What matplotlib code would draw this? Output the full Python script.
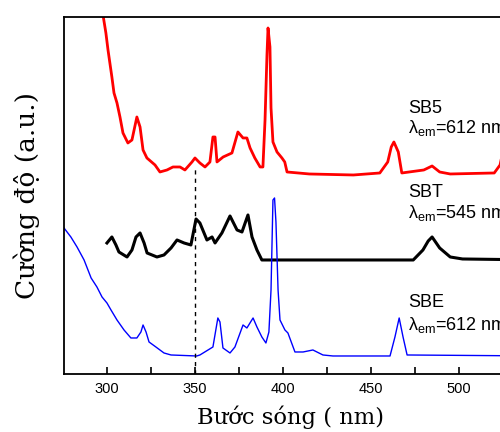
import matplotlib.pyplot as plt
from matplotlib.ticker import MultipleLocator

# Excitation spectra, intensity in arbitrary units
wl_sb5 = [297.3, 299.4, 300.6, 302.8, 304.0, 305.7, 307.4, 309.1, 311.9, 314.2, 317.0,
          318.8, 320.5, 322.7, 327.3, 330.1, 334.1, 337.5, 341.5, 344.3, 348.3, 350.0,
          352.8, 355.7, 358.5, 360.2, 361.4, 362.5, 366.0, 371.0, 374.4, 377.3, 379.5,
          381.3, 384.0, 387.0, 388.6, 389.8, 390.9, 391.5, 392.6, 393.2, 394.3, 396.6,
          399.4, 401.0, 402.3, 415.0, 440.0, 455.0, 459.5, 461.5, 463.0, 465.5, 467.5,
          480.0, 484.7, 489.0, 495.0, 520.0, 523.3, 527.0]
int_sb5 = [364, 341, 324, 297, 281, 271, 257, 241, 231, 234, 257,
           247, 224, 216, 209, 202, 204, 207, 207, 204, 212, 216,
           211, 207, 212, 237, 237, 212, 217, 221, 242, 236, 236,
           226, 216, 207, 207, 254, 319, 346, 327, 266, 232, 222,
           216, 212, 202, 200, 199, 201, 212, 227, 232, 222, 201,
           204, 208, 202, 200, 201, 209, 240]

wl_sbt = [300.0, 302.8, 305.1, 306.8, 311.4, 314.2, 316.5, 318.8, 321.1, 322.8, 328.4,
          332.4, 336.4, 339.8, 343.8, 347.7, 350.6, 352.8, 356.8, 359.7, 361.4, 365.3,
          369.9, 373.9, 376.7, 380.1, 382.4, 385.2, 388.0, 415.0, 474.0, 479.5, 482.5,
          484.7, 489.0, 495.0, 502.0, 546.0]
int_sbt = [131, 137, 129, 122, 117, 124, 137, 141, 131, 121, 117,
           119, 126, 134, 131, 129, 155, 151, 134, 137, 131, 141,
           158, 144, 142, 159, 137, 124, 114, 114, 114, 124, 133,
           137, 126, 117, 115, 114]

wl_sbe = [275.6, 279.5, 283.0, 287.0, 291.0, 294.3, 297.2, 300.0, 302.3, 305.7, 309.7,
          313.6, 317.0, 319.3, 320.5, 322.2, 323.9, 327.8, 332.4, 336.4, 351.0, 352.8,
          360.2, 363.0, 364.2, 365.9, 369.9, 372.7, 377.3, 379.5, 383.0, 385.2, 388.0,
          390.3, 392.0, 393.2, 394.3, 395.2, 396.0, 397.2, 398.3, 401.1, 402.8, 406.8,
          411.4, 417.0, 422.7, 428.4, 460.8, 463.6, 466.0, 468.2, 470.5, 546.0]
int_sbe = [146, 137, 127, 114, 96, 87, 77, 71, 64, 54, 44,
           36, 36, 42, 49, 42, 32, 27, 21, 19, 18, 19,
           27, 56, 52, 26, 21, 27, 49, 46, 56, 47, 37,
           31, 42, 84, 174, 176, 152, 84, 54, 44, 41, 22,
           22, 24, 19, 18, 18, 37, 56, 37, 19, 18]

dash_x = 350
dash_top = 207

labels = [("SB5", r"$\mathregular{\lambda_{em}}$=612 nm", 261, 241),
          ("SBT", r"$\mathregular{\lambda_{em}}$=545 nm", 177, 156),
          ("SBE", r"$\mathregular{\lambda_{em}}$=612 nm", 67, 44)]
label_x = 471

fig = plt.figure(figsize=(5.0, 4.32), dpi=100)
ax = fig.add_axes([0.128, 0.1343, 0.952, 0.8264])

ax.plot(wl_sb5, int_sb5, color='#ff0000', lw=2.0)
ax.plot(wl_sbt, int_sbt, color='black', lw=2.2)
ax.plot(wl_sbe, int_sbe, color='#0000ff', lw=1.0)
ax.plot([dash_x, dash_x], [0, dash_top], color='black', lw=1.0, ls=(0, (3, 3)))

for name, lam, y1, y2 in labels:
    ax.text(label_x, y1, name, fontsize=13, family='Liberation Sans', va='baseline')
    ax.text(label_x, y2, lam, fontsize=13, family='Liberation Sans', va='baseline')

ax.set_xlim(275.6, 546)
ax.set_ylim(0, 357)
ax.xaxis.set_major_locator(MultipleLocator(50))
ax.xaxis.set_minor_locator(MultipleLocator(25))
ax.tick_params(axis='x', which='both', direction='in', length=5, width=1.2,
               labelsize=10.5, pad=6)
ax.tick_params(axis='y', left=False, labelleft=False)
for lbl in ax.get_xticklabels():
    lbl.set_family('Liberation Sans')
for sp in ax.spines.values():
    sp.set_linewidth(1.3)

ax.set_xlabel("Bước sóng ( nm)", fontsize=16.3, family='DejaVu Serif')
ax.xaxis.set_label_coords(0.475, -0.088)
ax.set_ylabel("Cường độ (a.u.)", fontsize=19, family='DejaVu Serif')
ax.yaxis.set_label_coords(-0.05, 0.5)

fig.savefig("out.png", dpi=100)
